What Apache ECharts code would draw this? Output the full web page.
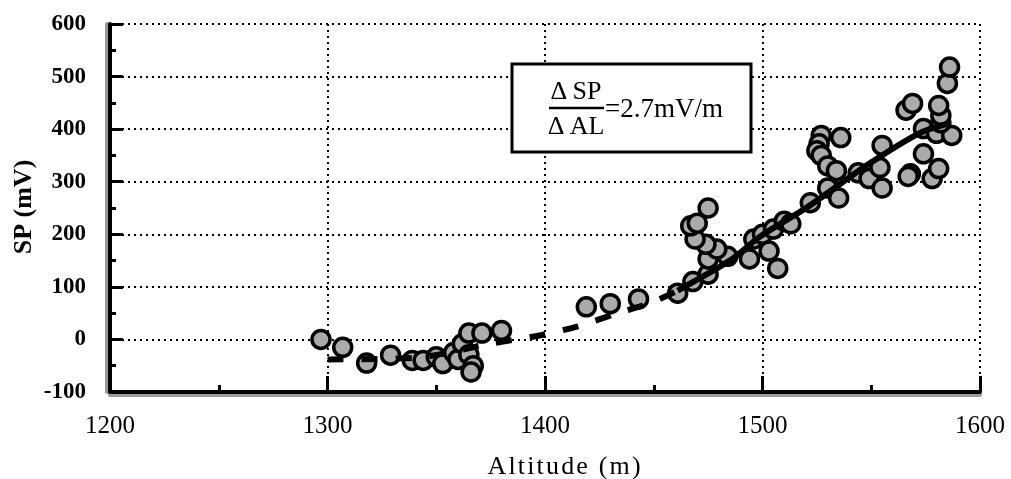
<!DOCTYPE html>
<html><head><meta charset="utf-8">
<script src="https://cdn.jsdelivr.net/npm/echarts@6/dist/echarts.min.js"></script>
<style>html,body{margin:0;padding:0;background:#fff}#c{width:1011px;height:479px}</style>
</head><body><div id="c"></div>
<script>
// Measured points: altitude (m) and SP (mV)
var altitude = [1297,1307,1318,1329,1339,1344,1350,1353,1358,1360,1362,1365,1371,1380,1365,1367,1366,
  1419,1430,1443,1461,1468,1475,1475,1484,1479,1474,1469,1467,1470,1475,1494,1496,1500,1503,1507,1505,1510,1513,
  1522,1530,1535,1527,1536,1526,1525,1527,1530,1534,1544,1549,1555,1554,1555,1568,1567,1578,1581,1574,1574,1580,1587,1582,1582,1581,1566,1569,1585,1586];
var sp = [0,-15,-45,-30,-40,-40,-33,-46,-25,-38,-8,12,12,17,-29,-50,-62,
  62,68,77,88,110,124,153,158,172,181,191,216,221,250,153,191,200,168,135,210,225,220,
  260,288,269,388,384,372,359,350,330,321,317,306,288,327,369,315,310,306,325,353,401,392,388,412,426,445,436,449,487,518];
// Trend curve (dashed part and solid part)
var trendAltDashed = [1300,1340,1375,1398,1415,1432,1450,1461];
var trendSpDashed = [-38,-35,-8,8,25,48,72,93];
var trendAltSolid = [1461,1471,1486,1499,1520,1549,1572,1585];
var trendSpSolid = [93,116,153,196,250,334,392,410];
var xTicks = [1200,1300,1400,1500,1600];
var yTicks = [-100,0,100,200,300,400,500,600];

function zip(a,b){return a.map(function(v,i){return [v,b[i]];});}

var chart = echarts.init(document.getElementById('c'));
var serif = '"Liberation Serif","DejaVu Serif",serif';
var hs = '\u200A';
chart.setOption({
  animation:false,
  backgroundColor:'#fff',
  grid:{left:110,right:31,top:24,bottom:87},
  xAxis:{type:'value',min:xTicks[0],max:xTicks[xTicks.length-1],interval:100,
    axisLine:{onZero:false,lineStyle:{color:'#000',width:4,shadowColor:'#9a9a9a',shadowOffsetY:3}},
    axisTick:{inside:true,length:16,lineStyle:{color:'#000',width:3}},
    minorTick:{show:true,splitNumber:2,length:7,lineStyle:{color:'#000',width:3}},
    splitLine:{show:true,lineStyle:{color:'#000',type:[2,4],width:2}},
    axisLabel:{color:'#000',fontFamily:serif,fontSize:25,margin:22,formatter:function(v){return String(v);}}
  },
  yAxis:{type:'value',min:yTicks[0],max:yTicks[yTicks.length-1],interval:100,
    axisLine:{onZero:false,lineStyle:{color:'#000',width:4,shadowColor:'#9a9a9a',shadowOffsetX:-3}},
    axisTick:{inside:true,length:13,lineStyle:{color:'#000',width:3}},
    minorTick:{show:true,splitNumber:2,length:6,lineStyle:{color:'#000',width:3}},
    splitLine:{show:true,lineStyle:{color:'#000',type:[2,4],width:2}},
    axisLabel:{color:'#000',fontFamily:serif,fontSize:23,fontWeight:'bold',margin:24,formatter:function(v){return String(v);}}
  },
  series:[
    {type:'scatter',data:zip(altitude,sp),symbol:'circle',symbolSize:18,z:2,
     itemStyle:{color:'#ababab',borderColor:'#000',borderWidth:3.5,opacity:1}},
    {type:'line',data:zip(trendAltDashed,trendSpDashed),showSymbol:false,smooth:0.3,z:3,
     lineStyle:{color:'#000',width:6,type:[16,18]}},
    {type:'line',data:zip(trendAltSolid,trendSpSolid),showSymbol:false,smooth:0.3,z:3,
     lineStyle:{color:'#000',width:6}}
  ],
  graphic:[
    {type:'rect',shape:{x:512,y:64,width:239,height:88},style:{fill:'#fff',stroke:'#000',lineWidth:3},z:10},
    {type:'text',x:576,y:92,style:{text:'\u0394\u2009SP',font:'26px '+serif,fill:'#000',align:'center',verticalAlign:'middle'},z:11},
    {type:'line',shape:{x1:549,y1:108,x2:604,y2:108},style:{stroke:'#000',lineWidth:2.5},z:11},
    {type:'text',x:576,y:127,style:{text:'\u0394\u2009AL',font:'26px '+serif,fill:'#000',align:'center',verticalAlign:'middle'},z:11},
    {type:'text',x:605,y:110,style:{text:'=2.7mV/m',font:'27px '+serif,fill:'#000',align:'left',verticalAlign:'middle'},z:11},
    {type:'text',x:564,y:467,style:{text:['A','l','t','i','t','u','d','e',' ','(','m',')'].join(hs),font:'26px '+serif,fill:'#000',align:'center',verticalAlign:'middle'},z:11},
    {type:'text',x:24,y:207,rotation:Math.PI/2,style:{text:'SP (mV)',font:'bold 26px '+serif,fill:'#000',align:'center',verticalAlign:'middle'},z:11}
  ]
});
</script></body></html>
